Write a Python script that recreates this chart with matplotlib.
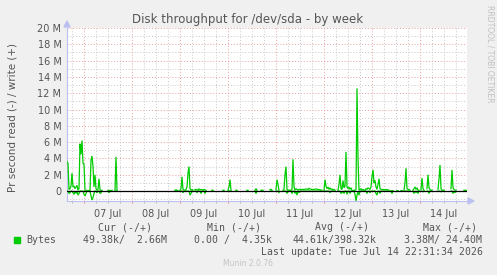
import numpy as np
import matplotlib
matplotlib.use("Agg")
import matplotlib.pyplot as plt
from matplotlib.patches import Polygon

nan = float("nan")

# hours since 06 Jul 00:00, write (MB/s), read (MB/s, drawn below zero)
hours = [15.5, 16, 16.5, 17, 17.5, 18, 18.5, 19, 19.5, 20, 20.5, 21, 21.5, 22, 22.5, 23, 23.5, 24, 24.5, 25,
         25.5, 26, 26.5, 27, 27.5, 28, 28.5, 29, 29.5, 30, 30.5, 31, 31.5, 32, 32.5, 33, 33.5,
         36, 36.5, 37, 37.5, 38, 38.5,
         39.5, 40, 40.5, 41,
         69.5, 70, 70.5, 71, 71.5,
         72, 72.5, 73, 73.5, 74, 74.5, 75, 75.5, 76, 76.5, 77, 77.5, 78, 78.5, 79,
         79.5, 80, 80.5, 81, 81.5, 82, 82.5, 83, 83.5, 84, 84.5, 85, 85.5,
         88, 88.5, 89,
         93.5, 94, 94.5,
         96, 96.5, 97, 97.5, 98,
         100, 100.5, 101,
         105.5, 106, 106.5,
         109.5, 110, 110.5, 111,
         112.5, 113, 113.5, 114,
         117, 117.5, 118, 118.5,
         120, 120.5, 121, 121.5, 122,
         123.5, 124, 124.5, 125, 125.5, 126, 126.5, 127, 127.5, 128, 128.5, 129, 129.5, 130, 130.5, 131, 131.5,
         132, 133, 134, 135, 136, 136.5, 137, 138, 139, 140, 141, 142, 143, 143.5,
         144, 144.5, 145, 145.5, 146, 146.5, 147, 147.5, 148, 148.5, 149, 149.5, 150,
         151, 151.5, 152, 152.5, 153, 153.5, 154, 154.5, 155, 155.5, 156, 156.5, 157, 157.5, 158, 158.5, 159,
         159.5, 160, 160.5, 161, 161.5, 162, 162.5, 163, 163.5, 164, 164.5, 165, 165.5, 166, 166.5, 167, 167.5,
         168, 168.5, 169, 169.5, 170, 170.5, 171, 171.5, 172, 172.5, 173, 174, 175, 176, 176.5, 177,
         177.5, 178, 178.5, 179,
         180.5, 181, 181.5,
         182.5, 183, 183.5,
         184, 184.5, 185, 185.5, 186, 186.5, 187, 187.5,
         188.5, 189, 189.5, 190, 190.5, 191, 191.5, 192,
         192.5, 193, 193.5, 194, 194.5,
         195.5, 196, 196.5, 197, 197.5, 198, 198.5,
         201, 201.5, 202, 202.5, 203, 203.5, 204, 204.5,
         207.5, 208, 208.5, 209, 209.5, 210, 210.5,
         214, 214.5, 215]

write_mb = [3.6, 3.4, 0.2, 0.3, 0.6, 2.2, 0.5, 0.6, 0.3, 0.5, 0.7, 0.1, 0.3, 5.8, 4.5, 6.2, 3.4, 3.3, 0.1, 0.0,
            0.1, 0.0, 0.1, 0.0, 3.8, 4.3, 3.0, 0.5, 2.0, 0.3, 0.1, 0.2, 1.5, 0.2, 0.0, 0.1, nan,
            0.1, 0.0, 0.1, 0.0, 0.1, nan,
            0.1, 4.2, 0.1, nan,
            0.1, 0.15, 0.1, 0.05, nan,
            0.1, 0.3, 1.75, 0.2, 0.1, 0.1, 0.2, 0.5, 2.2, 3.0, 0.3, 0.1, 0.2, 0.1, nan,
            0.2, 0.15, 0.2, 0.1, 0.25, 0.2, 0.15, 0.2, 0.1, 0.2, 0.15, 0.1, nan,
            0.1, 0.1, nan,
            0.1, 0.1, nan,
            0.1, 0.5, 1.4, 0.1, nan,
            0.1, 0.1, nan,
            0.1, 0.1, nan,
            0.1, 0.3, 0.1, nan,
            0.1, 0.1, 0.1, nan,
            0.2, 0.2, 0.1, nan,
            0.2, 1.4, 0.8, 0.1, nan,
            0.1, 0.2, 2.0, 3.0, 0.2, 0.1, 0.1, 0.1, 0.1, 0.2, 3.9, 0.5, 0.1, 0.3, 0.2, 0.1, 0.2,
            0.2, 0.2, 0.2, 0.25, 0.2, 0.35, 0.25, 0.2, 0.2, 0.25, 0.2, 0.15, 0.1, nan,
            0.1, 1.4, 0.6, 0.3, 0.5, 0.2, 0.4, 0.2, 0.25, 0.15, 0.2, 0.1, nan,
            0.1, 0.8, 2.0, 0.3, 0.2, 1.3, 0.4, 0.6, 4.8, 0.5, 0.3, 0.5, 0.2, 0.4, 0.1, 0.0, 0.1,
            0.1, 0.2, 12.6, 4.0, 0.1, 0.2, 0.3, 0.1, 0.2, 0.1, 0.1, 0.3, 0.2, 0.4, 0.3, 0.2, 0.5,
            1.8, 2.6, 1.0, 1.3, 0.5, 0.2, 0.8, 1.5, 0.3, 0.2, 0.2, 0.15, 0.2, 0.15, 0.1, nan,
            0.05, 0.0, 0.05, nan,
            0.05, 0.05, nan,
            0.05, 0.05, nan,
            0.1, 1.0, 2.8, 0.3, 0.2, 0.2, 0.1, nan,
            0.1, 0.3, 0.5, 0.2, 0.4, 0.1, 0.1, nan,
            0.2, 1.6, 0.3, 0.1, nan,
            0.3, 2.0, 0.4, 0.2, 0.1, 0.1, nan,
            0.2, 1.5, 3.2, 0.3, 0.1, 0.1, 0.1, nan,
            0.3, 2.6, 0.4, 0.2, 0.1, 0.1, nan,
            0.1, 0.1, 0.1]

read_mb = [0, 0, 0.3, 0.2, 0, 0, 0.2, 0.4, 0, 0.3, 0, 0.5, 0.3, 0, 0, 0, 0, 0.4, 0.6, 0.3,
           0, 0, 0, 0, 0.6, 1.1, 0.8, 0.3, 0, 0, 0.2, 0, 0, 0.3, 0.2, 0, nan,
           0, 0.2, 0, 0, 0, nan,
           0, 0, 0, nan,
           0, 0, 0, 0, nan,
           0, 0, 0, 0.2, 0, 0, 0, 0, 0, 0, 0.5, 0.3, 0, 0, nan,
           0, 0, 0.2, 0, 0, 0, 0.3, 0, 0, 0, 0.3, 0, nan,
           0, 0, nan,
           0, 0, nan,
           0, 0, 0, 0, nan,
           0, 0, nan,
           0, 0, nan,
           0, 0.3, 0, nan,
           0, 0, 0, nan,
           0, 0, 0, nan,
           0, 0, 0, 0.2, nan,
           0, 0, 0, 0, 0.3, 0, 0, 0, 0, 0.3, 0, 0, 0.3, 0, 0.5, 0, 0.2,
           0, 0, 0, 0, 0, 0, 0, 0, 0, 0, 0, 0, 0, nan,
           0, 0, 0, 0, 0, 0, 0.2, 0, 0, 0, 0, 0, nan,
           0, 0, 0, 0.3, 0.2, 0, 0.3, 0, 0, 0.4, 0, 0, 0.3, 0, 0, 0, 0,
           0.4, 1.2, 0.5, 0.1, 0.5, 0, 0, 0, 0, 0, 0, 0, 0.3, 0, 0, 0.2, 0,
           0, 0, 0, 0, 0.3, 0.5, 0, 0, 0.3, 0, 0, 0, 0, 0, 0, nan,
           0, 0.3, 0, nan,
           0, 0, nan,
           0, 0, nan,
           0, 0, 0, 0, 0, 0, 0, nan,
           0, 0.3, 0, 0.2, 0, 0.3, 0, nan,
           0, 0, 0.1, 0, nan,
           0, 0, 0.3, 0, 0, 0, nan,
           0, 0, 0, 0.1, 0, 0, 0, nan,
           0, 0, 0.3, 0, 0.2, 0, nan,
           0, 0, 0]

y_major = [2, 4, 6, 8, 10, 12, 14, 16, 18, 20]
y_minor = [-1, 1, 3, 5, 7, 9, 11, 13, 15, 17, 19]
y_labels = ["0", "2 M", "4 M", "6 M", "8 M", "10 M", "12 M", "14 M", "16 M", "18 M", "20 M"]
day_midnights = [24, 48, 72, 96, 120, 144, 168, 192]
day_labels = ["07 Jul", "08 Jul", "09 Jul", "10 Jul", "11 Jul", "12 Jul", "13 Jul", "14 Jul"]

W, H = 497, 275
fig = plt.figure(figsize=(W / 100, H / 100), dpi=100, facecolor="#F0F0F0")

def fx(px):
    return px / W

def fy(py):
    return 1 - py / H

L, R, T, B = 67, 467, 28, 201
ax = fig.add_axes([fx(L), fy(B), fx(R) - fx(L), fy(T) - fy(B)])
ax.set_facecolor("white")
xmin, xmax = 15.5, 215.5
ymin, ymax = -1.22, 20.0
ax.set_xlim(xmin, xmax)
ax.set_ylim(ymin, ymax)

red = "#E8A0A0"
gray = "#C8C8C8"
dots = (0, (1, 2))
for v in y_minor:
    ax.axhline(v, color=gray, lw=0.7, ls=dots, zorder=1)
for v in y_major:
    ax.axhline(v, color=red, lw=0.7, ls=dots, zorder=1)
six_h = [h for h in np.arange(18, 216, 6) if h % 24 != 0]
for h in six_h:
    ax.axvline(h, color=gray, lw=0.7, ls=dots, zorder=1)
for h in day_midnights:
    ax.axvline(h, color=red, lw=0.7, ls=dots, zorder=1)

t = np.array(hours, dtype=float)
w = np.array(write_mb, dtype=float)
r = np.array(read_mb, dtype=float)
green = "#00CC00"
ax.plot(t, w, color=green, lw=0.9, zorder=3, solid_joinstyle="miter")
ax.plot(t, -r, color=green, lw=0.9, zorder=3, solid_joinstyle="miter")
ax.axhline(0, color="black", lw=0.9, zorder=4)

for s in ["top", "right"]:
    ax.spines[s].set_visible(False)
for s in ["left", "bottom"]:
    ax.spines[s].set_color("#BBC0F0")
    ax.spines[s].set_linewidth(0.8)

txt = "#555555"
ax.set_yticks([0] + y_major)
ax.set_yticklabels(y_labels)
ax.set_xticks([h + 12 for h in day_midnights])
ax.set_xticklabels(day_labels)
ax.tick_params(axis="both", length=0, labelsize=7, labelcolor=txt, pad=4)
ax.tick_params(axis="x", pad=6)

# small tick marks under the x axis
for h in six_h:
    ax.plot([h, h], [ymin, ymin - 0.25], color=gray, lw=0.7, clip_on=False, zorder=2)
for h in day_midnights:
    ax.plot([h, h], [ymin, ymin - 0.25], color=red, lw=0.7, clip_on=False, zorder=2)

# arrows
arrow_c = "#BBC0F0"
fig.patches.append(Polygon([(fx(L - 3), fy(T - 1)), (fx(L + 3), fy(T - 1)), (fx(L), fy(T - 7))],
                           closed=True, transform=fig.transFigure, color=arrow_c))
fig.patches.append(Polygon([(fx(R + 1), fy(B - 3)), (fx(R + 1), fy(B + 3)), (fx(R + 7), fy(B))],
                           closed=True, transform=fig.transFigure, color=arrow_c))

fig.text(fx(248), fy(19), "Disk throughput for /dev/sda - by week", ha="center", va="center",
         fontsize=8.5, color=txt)
fig.text(fx(13), fy(117), "Pr second read (-) / write (+)", ha="center", va="center",
         rotation=90, fontsize=7.5, color=txt)
fig.text(fx(490), fy(5), "RRDTOOL / TOBI OETIKER", ha="center", va="top", rotation=270,
         fontsize=5.5, color="#C0C0C0")

mono = "DejaVu Sans Mono"
ms = 7.1
fig.text(fx(98), fy(227), "Cur (-/+)", ha="left", va="center", family=mono, fontsize=ms, color=txt)
fig.text(fx(207), fy(227), "Min (-/+)", ha="left", va="center", family=mono, fontsize=ms, color=txt)
fig.text(fx(315), fy(227), "Avg (-/+)", ha="left", va="center", family=mono, fontsize=ms, color=txt)
fig.text(fx(423), fy(227), "Max (-/+)", ha="left", va="center", family=mono, fontsize=ms, color=txt)

fig.patches.append(Polygon([(fx(14), fy(237)), (fx(20), fy(237)), (fx(20), fy(243)), (fx(14), fy(243))],
                           closed=True, transform=fig.transFigure, color=green))
fig.text(fx(26), fy(240), "Bytes", ha="left", va="center", family=mono, fontsize=ms, color=txt)
fig.text(fx(83), fy(240), "49.38k/  2.66M", ha="left", va="center", family=mono, fontsize=ms, color=txt)
fig.text(fx(194), fy(240), "0.00 /  4.35k", ha="left", va="center", family=mono, fontsize=ms, color=txt)
fig.text(fx(293), fy(240), "44.61k/398.32k", ha="left", va="center", family=mono, fontsize=ms, color=txt)
fig.text(fx(404), fy(240), "3.38M/ 24.40M", ha="left", va="center", family=mono, fontsize=ms, color=txt)
fig.text(fx(483), fy(252), "Last update: Tue Jul 14 22:31:34 2026", ha="right", va="center",
         family=mono, fontsize=ms, color=txt)
fig.text(fx(248), fy(263), "Munin 2.0.76", ha="center", va="center", fontsize=5.5, color="#C4C4C4")

fig.savefig("out.png", dpi=100, facecolor=fig.get_facecolor())
